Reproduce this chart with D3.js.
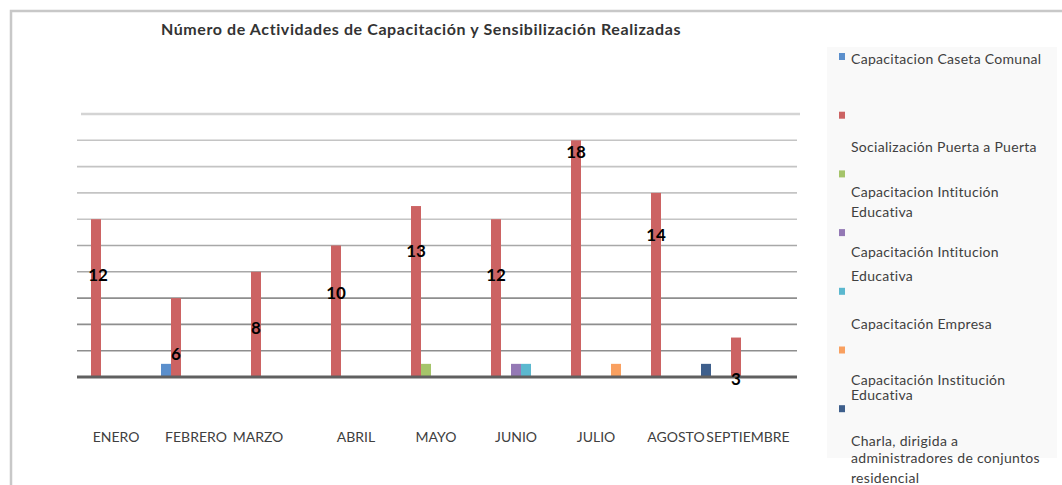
<!DOCTYPE html>
<html>
<head>
<meta charset="utf-8">
<script src="https://cdn.jsdelivr.net/npm/d3@7"></script>
<style>
  html, body { margin: 0; padding: 0; background: #ffffff; }
  svg { display: block; font-family: Lato, "Open Sans", sans-serif; }
</style>
</head>
<body>
<svg id="chart" width="1062" height="485"></svg>
<script>
// Monthly activities, one array per activity type
const months = ["ENERO", "FEBRERO", "MARZO", "ABRIL", "MAYO", "JUNIO", "JULIO", "AGOSTO", "SEPTIEMBRE"];

const capacitacionCaseta     = [0, 1, 0, 0, 0, 0, 0, 0, 0];
const socializacionPuerta    = [12, 6, 8, 10, 13, 12, 18, 14, 3];
const capacitacionIntitucion = [0, 0, 0, 0, 1, 0, 0, 0, 0];
const capacitacionIntitucion2 = [0, 0, 0, 0, 0, 1, 0, 0, 0];
const capacitacionEmpresa    = [0, 0, 0, 0, 0, 1, 0, 0, 0];
const capacitacionInstitucion = [0, 0, 0, 0, 0, 0, 1, 0, 0];
const charlaAdministradores  = [0, 0, 0, 0, 0, 0, 0, 1, 0];

const seriesNames = [
  "Capacitacion Caseta Comunal",
  "Socialización Puerta a Puerta",
  "Capacitacion Intitución Educativa",
  "Capacitación Intitucion Educativa",
  "Capacitación Empresa",
  "Capacitación Institución Educativa",
  "Charla, dirigida a administradores de conjuntos residencial"
];
const seriesValues = [
  capacitacionCaseta, socializacionPuerta, capacitacionIntitucion,
  capacitacionIntitucion2, capacitacionEmpresa, capacitacionInstitucion,
  charlaAdministradores
];
const yTicks = [0, 2, 4, 6, 8, 10, 12, 14, 16, 18, 20];

// ---- styling / layout ----
const colors = ["#5b8fcc", "#cc6363", "#a5c46a", "#9479b5", "#5bb8cf", "#f9a060", "#3e5f8c"];
const textColor = "#404040";

const svg = d3.select("#chart");

// outer frame (top and left edges visible)
svg.append("path")
  .attr("d", "M11,485 V11 H1062")
  .attr("fill", "none")
  .attr("stroke", "#c8c8c8")
  .attr("stroke-width", 2.5);

const plot = { left: 77, right: 797, top: 114, bottom: 377 };

const x0 = d3.scaleBand()
  .domain(months)
  .range([plot.left - 1, plot.right - 1])
  .paddingInner(0.125)
  .paddingOuter(0.0625);

const x1 = d3.scaleBand()
  .domain(d3.range(seriesNames.length))
  .range([0, x0.bandwidth()]);

const y = d3.scaleLinear().domain([0, 20]).range([plot.bottom, plot.top]);

// title
svg.append("text")
  .attr("x", 421)
  .attr("y", 35)
  .attr("text-anchor", "middle")
  .attr("font-size", 16)
  .attr("letter-spacing", 0.6)
  .attr("font-weight", "bold")
  .attr("fill", "#333333")
  .text("Número de Actividades de Capacitación y Sensibilización Realizadas");

// gridlines
const gridColor = v => v === 20 ? "#d4d4d4" : v >= 12 ? "#c4c4c4" : v >= 8 ? "#a8a8a8" : "#8e8e8e";
svg.append("g")
  .selectAll("line")
  .data(yTicks.filter(v => v > 0))
  .join("line")
  .attr("x1", v => v === 20 ? plot.left + 4 : plot.left)
  .attr("x2", v => v === 20 ? plot.right + 3 : plot.right)
  .attr("y1", v => y(v))
  .attr("y2", v => y(v))
  .attr("stroke", gridColor)
  .attr("stroke-width", v => v === 20 ? 2.5 : 1.6);

// bars
const groups = svg.append("g")
  .selectAll("g")
  .data(months)
  .join("g")
  .attr("transform", d => `translate(${x0(d)},0)`);

groups.selectAll("rect")
  .data((m, i) => seriesValues.map((vals, s) => ({ s, v: vals[i] })).filter(d => d.v > 0))
  .join("rect")
  .attr("x", d => x1(d.s))
  .attr("width", x1.bandwidth())
  .attr("y", d => y(d.v))
  .attr("height", d => y(0) - y(d.v))
  .attr("fill", d => colors[d.s]);

// baseline
svg.append("line")
  .attr("x1", plot.left).attr("x2", plot.right)
  .attr("y1", y(0)).attr("y2", y(0))
  .attr("stroke", "#606060")
  .attr("stroke-width", 3);

// value labels on the Socialización series (placed along the bar, in value units)
const labelAt = [7.8, 1.75, 3.75, 6.4, 9.6, 7.8, 17.1, 10.8, -0.15];
svg.append("g")
  .selectAll("text")
  .data(months)
  .join("text")
  .attr("x", d => x0(d) + x1(1) + x1.bandwidth() / 2 + (d === "ENERO" ? 2 : 0))
  .attr("y", (d, i) => y(labelAt[i]))
  .attr("dy", "0.36em")
  .attr("text-anchor", "middle")
  .attr("font-size", 17)
  .attr("font-weight", "bold")
  .attr("fill", "#000000")
  .text((d, i) => socializacionPuerta[i]);

// category labels
const labelNudge = { MARZO: -18, SEPTIEMBRE: -8 };
svg.append("g")
  .selectAll("text")
  .data(months)
  .join("text")
  .attr("x", d => x0(d) + x0.bandwidth() / 2 + (labelNudge[d] || 0))
  .attr("y", 442)
  .attr("text-anchor", "middle")
  .attr("font-size", 14)
  .attr("fill", textColor)
  .text(d => d);

// legend
const legend = svg.append("g");
legend.append("rect")
  .attr("x", 827).attr("y", 47)
  .attr("width", 230).attr("height", 411)
  .attr("fill", "#f9f9f9");

const legendLines = [
  ["Capacitacion Caseta Comunal"],
  ["Socialización Puerta a Puerta"],
  ["Capacitacion Intitución", "Educativa"],
  ["Capacitación Intitucion", "Educativa"],
  ["Capacitación Empresa"],
  ["Capacitación Institución", "Educativa"],
  ["Charla, dirigida a", "administradores de conjuntos", "residencial"]
];
// vertical offsets of each text line relative to its marker
const legendOffsets = [[2], [31], [18, 38], [19, 43], [32], [30, 45], [32, 49, 69]];
const markerStep = 58.7;

const items = legend.selectAll("g")
  .data(seriesNames)
  .join("g")
  .attr("transform", (d, i) => `translate(0,${57 + i * markerStep})`);

items.append("rect")
  .attr("x", 839).attr("y", -4)
  .attr("width", 6).attr("height", 7)
  .attr("fill", (d, i) => colors[i]);

items.each(function (d, i) {
  d3.select(this).selectAll("text")
    .data(legendLines[i])
    .join("text")
    .attr("x", 851)
    .attr("y", (t, k) => legendOffsets[i][k])
    .attr("dy", "0.35em")
    .attr("font-size", 14)
    .attr("letter-spacing", 0.3)
    .attr("fill", textColor)
    .text(t => t);
});
</script>
</body>
</html>
